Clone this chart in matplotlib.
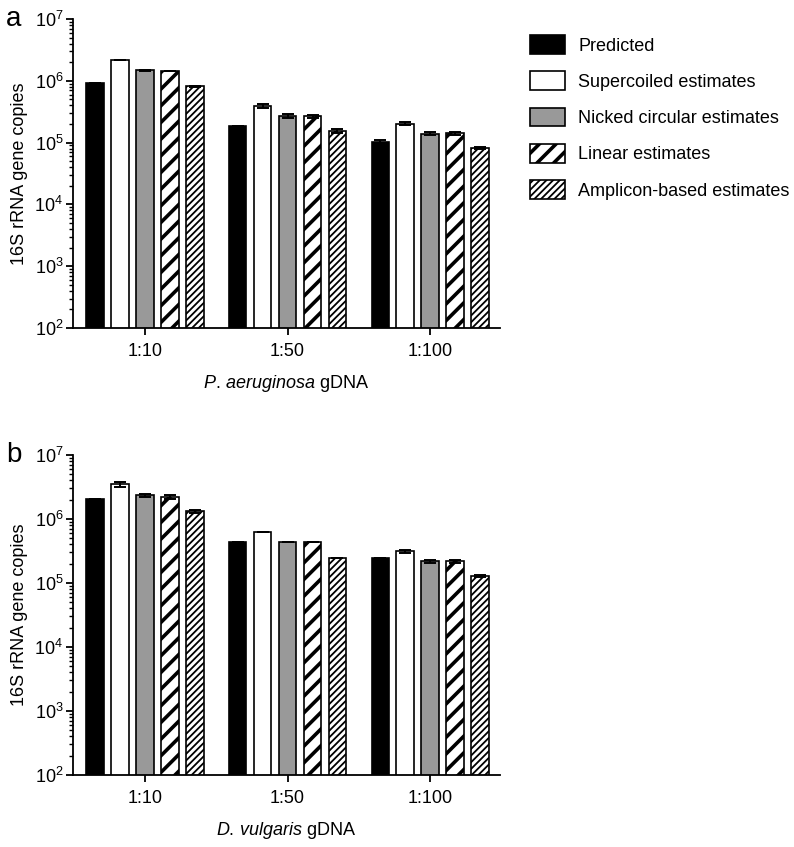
import matplotlib
matplotlib.use("Agg")
import matplotlib.pyplot as plt
from matplotlib.legend_handler import HandlerPatch
from matplotlib.patches import Rectangle
import numpy as np

plt.rcParams['font.family'] = ['Liberation Sans', 'DejaVu Sans']
plt.rcParams['mathtext.fontset'] = 'custom'
plt.rcParams['mathtext.rm'] = 'Liberation Sans'
plt.rcParams['mathtext.it'] = 'Liberation Sans:italic'

dilutions = ["1:10", "1:50", "1:100"]
series = ["Predicted", "Supercoiled estimates", "Nicked circular estimates",
          "Linear estimates", "Amplicon-based estimates"]

# panel a: P. aeruginosa
a_vals = [
    [9.1e5, 1.86e5, 1.03e5],
    [2.17e6, 3.9e5, 2.02e5],
    [1.48e6, 2.7e5, 1.39e5],
    [1.44e6, 2.65e5, 1.41e5],
    [8.2e5, 1.55e5, 8.2e4],
]
a_err = [
    [0, 0, 7e3],
    [3e4, 2.8e4, 1.2e4],
    [2e4, 1.8e4, 7e3],
    [1.5e4, 1.8e4, 6e3],
    [1.5e4, 1e4, 3e3],
]

# panel b: D. vulgaris
b_vals = [
    [2.05e6, 4.35e5, 2.45e5],
    [3.5e6, 6.3e5, 3.13e5],
    [2.34e6, 4.3e5, 2.19e5],
    [2.23e6, 4.3e5, 2.19e5],
    [1.32e6, 2.45e5, 1.27e5],
]
b_err = [
    [0, 0, 0],
    [3e5, 0, 1.5e4],
    [1.5e5, 0, 1e4],
    [1.5e5, 0, 1e4],
    [6e4, 0, 4e3],
]

faces = ["black", "white", "#999999", "white", "white"]
hatches = [None, None, None, "//", "/////"]
hatch_lw = [1, 1, 1, 2.6, 1.3]

W, H = 794, 847
fig = plt.figure(figsize=(W / 100, H / 100), dpi=100)

FS = 13


def panel(rect, vals, errs, xlabel, letter):
    ax = fig.add_axes(rect)
    x = np.arange(len(dilutions))
    pitch = 0.175
    width = 0.122
    handles = []
    for i in range(len(series)):
        off = (i - 2) * pitch
        bars = ax.bar(x + off, vals[i], width, color=faces[i], edgecolor="black",
                      linewidth=1.2, hatch=hatches[i], label=series[i], zorder=2)
        for b in bars:
            b.set_hatch_linewidth(hatch_lw[i])
        handles.append(bars[0])
        ax.errorbar(x + off, vals[i], yerr=np.array(errs[i]), fmt="none", ecolor="black",
                    elinewidth=1.4, capsize=4, capthick=1.4, zorder=3)
    ax.set_yscale("log")
    ax.set_ylim(1e2, 1e7)
    ax.set_xlim(-0.505, 2.49)
    ax.set_xticks(x)
    ax.set_xticklabels(dilutions, fontsize=FS)
    ax.tick_params(axis="y", labelsize=FS, pad=2)
    ax.tick_params(axis="x", pad=6)
    ax.tick_params(which="major", direction="out", length=5, width=1.3)
    ax.tick_params(which="minor", direction="out", length=3, width=1.0)
    ax.spines["top"].set_visible(False)
    ax.spines["right"].set_visible(False)
    ax.spines["left"].set_linewidth(1.3)
    ax.spines["bottom"].set_linewidth(1.3)
    ax.set_ylabel("16S rRNA gene copies", fontsize=FS, labelpad=5)
    ax.set_xlabel(xlabel, fontsize=FS, labelpad=9)
    fig.text(6 / W, rect[1] + rect[3], letter, fontsize=20, va="center", ha="left")
    return ax, handles


def copy_hatch(legend_handle, orig_handle):
    legend_handle.update_from(orig_handle)
    legend_handle.set_hatch_linewidth(orig_handle.get_hatch_linewidth())


ax_a, handles = panel([73 / W, 1 - 328 / H, 427 / W, 309 / H], a_vals, a_err,
                      r"$\mathit{P.\,aeruginosa}$ gDNA", "a")
ax_b, _ = panel([73 / W, 1 - 775 / H, 427 / W, 320 / H], b_vals, b_err,
                r"$\mathit{D.\,vulgaris}$ gDNA", "b")

fig.legend(handles, series, loc="upper left", bbox_to_anchor=(523 / W, 1 - 28 / H),
           frameon=False, fontsize=FS, handlelength=1.9, handleheight=1.22,
           labelspacing=0.93, handletextpad=0.75, borderaxespad=0,
           handler_map={Rectangle: HandlerPatch(update_func=copy_hatch)})

fig.savefig("out.png", dpi=100)
